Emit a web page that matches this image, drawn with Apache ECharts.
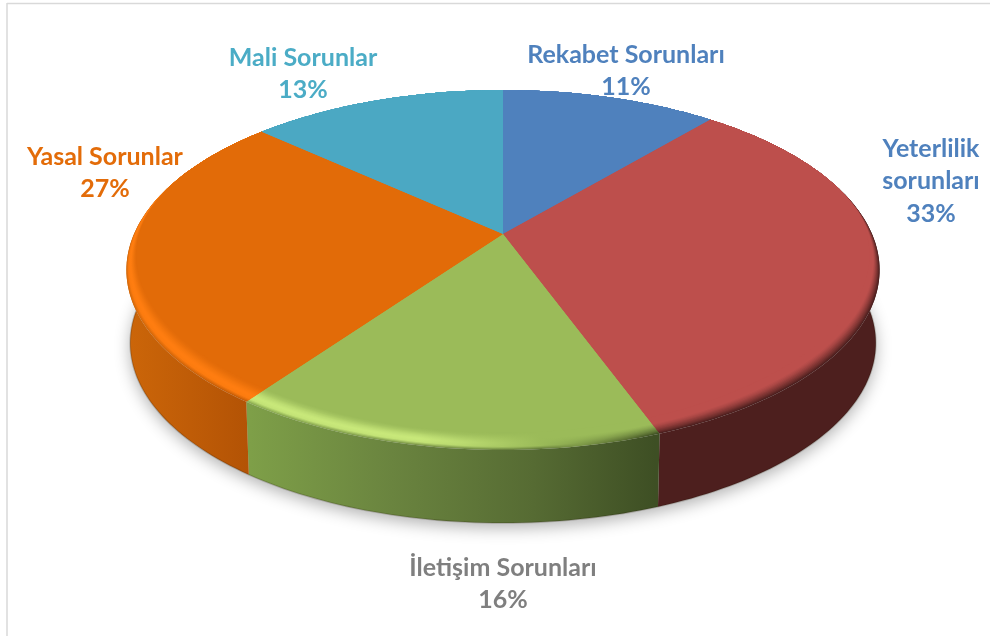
<!DOCTYPE html>
<html><head><meta charset="utf-8">
<style>html,body{margin:0;padding:0;background:#fff}#c{width:990px;height:636px}</style>
<script src="https://cdn.jsdelivr.net/npm/echarts@6/dist/echarts.min.js"></script>
</head><body><div id="c"></div>
<script>
const categories = ['Rekabet Sorunları', 'Yeterlilik\nsorunları', 'İletişim Sorunları', 'Yasal Sorunlar', 'Mali Sorunlar'];
const shares = [11.2, 33.2, 15.5, 26.8, 13.3];

// styling and layout, separate from the data
const faceColors = ['#4f81bd', '#bd4f4c', '#9bbb59', '#e26b08', '#4ba8c3'];
const hiColors = ['#4f81bd', '#bd4f4c', '#c8e87a', '#ff7d10', '#4ba8c3'];
const darkColors = ['#2a4466', '#4c1f1e', '#3d4e22', '#8a4205', '#28596a'];
const wallStops = [
  [[0, '#2f4d72'], [1, '#2f4d72']],
  [[0, '#4d1f1e'], [1, '#4d1f1e']],
  [[0, '#7e9f48'], [0.35, '#6a843f'], [0.7, '#566b33'], [1, '#3e4f24']],
  [[0, '#cc6609'], [1, '#b25205']],
  [[0, '#2d6577'], [1, '#2d6577']]
];
const labelColors = ['#4f81bd', '#4f81bd', '#7f7f7f', '#e36c09', '#4bacc6'];
const labelPos = [[626, 71], [931, 181], [503, 584], [105, 173], [303, 74]];
const wallX = [[503, 710], [652, 882], [250, 655], [126, 255], [260, 503]];
const G = {cx: 503, cy: 234, a: 369, b: 172.8, p: 0.2, depth: 73, bottomScale: 0.99, bevel: 0.065, rings: 18};

const total = shares.reduce((s, v) => s + v, 0);
function project(u, v) {
  const w = 1 - G.p * v;
  return [G.cx + G.a * u / w, G.cy + G.b * v / w];
}
function toBottom(pt) {
  return [G.cx + (pt[0] - G.cx) * G.bottomScale, pt[1] + G.depth];
}
function smooth(e0, e1, x) {
  const t = Math.max(0, Math.min(1, (x - e0) / (e1 - e0)));
  return t * t * (3 - 2 * t);
}
function arc(from, to, t) {
  const pts = [];
  const n = Math.max(2, Math.ceil((to - from) / (Math.PI / 150)));
  for (let i = 0; i <= n; i++) {
    const th = from + (to - from) * i / n;
    const u = Math.sin(th), v = -Math.cos(th);
    const r = 1 - G.bevel * t * smooth(-0.4, 0.9, v);
    pts.push(project(u * r, v * r));
  }
  return pts;
}
function hex(c) { return [1, 3, 5].map(i => parseInt(c.substr(i, 2), 16)); }
function mixRgb(a, b, k) { return a.map((x, i) => x + (b[i] - x) * k); }
function css(a) { return 'rgb(' + a.map(Math.round).join(',') + ')'; }
function wallColorAt(i, x) {
  const wx = wallX[i], st = wallStops[i];
  const f = Math.max(0, Math.min(1, (x - wx[0]) / (wx[1] - wx[0])));
  for (let k = 1; k < st.length; k++) {
    if (f <= st[k][0]) {
      return mixRgb(hex(st[k - 1][1]), hex(st[k][1]), (f - st[k - 1][0]) / (st[k][0] - st[k - 1][0]));
    }
  }
  return hex(st[st.length - 1][1]);
}
function lightAt(x) {
  if (x <= 430) return 1;
  if (x <= 540) return 1 - (x - 430) / 110;
  if (x <= 660) return -(x - 540) / 120;
  return -1;
}
function rimColor(i, x, t) {
  const L = lightAt(x);
  let c;
  if (L >= 0) {
    const h = t < 0.32 ? 0.75 + 0.25 * t / 0.32 : 1 - smooth(0.32, 1, t);
    c = mixRgb(hex(faceColors[i]), hex(hiColors[i]), L * h);
    if (t < 0.16) c = mixRgb(c, wallColorAt(i, x), (1 - t / 0.16) * 0.75);
  } else {
    const d = Math.pow(Math.max(0, 1 - t / 0.6), 1.4);
    c = mixRgb(hex(faceColors[i]), hex(darkColors[i]), -L * d);
  }
  return css(c);
}
function rimGradient(i, t) {
  const stops = [];
  for (let k = 0; k <= 20; k++) {
    stops.push({offset: k / 20, color: rimColor(i, 100 + 40 * k, t)});
  }
  return new echarts.graphic.LinearGradient(100, 0, 900, 0, stops, true);
}

function renderSlice(params, api) {
  const i = params.dataIndex;
  let before = 0;
  for (let k = 0; k < i; k++) before += shares[k];
  const from = before / total * Math.PI * 2;
  const to = (before + api.value(0)) / total * Math.PI * 2;
  const children = [];

  // side wall
  const top = arc(from, to, 0);
  const bottom = top.map(toBottom);
  const wx = wallX[i];
  children.push({
    type: 'polygon', z2: 1, silent: true,
    shape: {points: top.concat(bottom.slice().reverse())},
    style: {
      fill: new echarts.graphic.LinearGradient(wx[0], 0, wx[1], 0,
        wallStops[i].map(s => ({offset: s[0], color: s[1]})), true)
    }
  });
  children.push({
    type: 'polyline', z2: 2, silent: true,
    shape: {points: bottom},
    style: {stroke: 'rgba(30,20,0,0.2)', lineWidth: 1.6, fill: null}
  });

  // top face: nested sectors, outer rim inwards
  for (let k = 0; k < G.rings; k++) {
    const t = k / (G.rings - 1);
    const pts = [[G.cx, G.cy]].concat(arc(from, to, t));
    children.push({
      type: 'polygon', z2: 10 + k, silent: true,
      shape: {points: pts},
      style: {fill: k === G.rings - 1 ? faceColors[i] : rimGradient(i, t)}
    });
  }

  // label
  children.push({
    type: 'text', z2: 60, silent: true,
    x: labelPos[i][0], y: labelPos[i][1],
    style: {
      text: categories[i] + '\n' + Math.round(api.value(0)) + '%',
      fill: labelColors[i],
      font: 'bold 25px Lato',
      lineHeight: 32.5,
      align: 'center', verticalAlign: 'middle'
    }
  });
  return {type: 'group', children};
}

function renderShadow() {
  const pts = arc(0, Math.PI * 2, 0).map(toBottom);
  return {
    type: 'polygon', z2: 0, silent: true,
    shape: {points: pts},
    style: {
      fill: '#cfcfcf',
      shadowBlur: 16, shadowColor: 'rgba(0,0,0,0.3)',
      shadowOffsetX: 0, shadowOffsetY: 5
    }
  };
}

const chart = echarts.init(document.getElementById('c'), null, {renderer: 'canvas'});
chart.setOption({
  animation: false,
  backgroundColor: '#ffffff',
  graphic: [
    {type: 'line', silent: true, shape: {x1: 7, y1: 3.5, x2: 990, y2: 3.5}, style: {stroke: '#d9d9d9', lineWidth: 1.5}},
    {type: 'line', silent: true, shape: {x1: 7, y1: 3, x2: 7, y2: 636}, style: {stroke: '#d9d9d9', lineWidth: 1.5}}
  ],
  series: [
    {type: 'custom', name: 'shadow', coordinateSystem: 'none', silent: true, data: [[0]], renderItem: renderShadow},
    {type: 'custom', name: 'Sorunlar', coordinateSystem: 'none', silent: true,
     data: shares.map(v => [v]), renderItem: renderSlice}
  ]
});
</script></body></html>
